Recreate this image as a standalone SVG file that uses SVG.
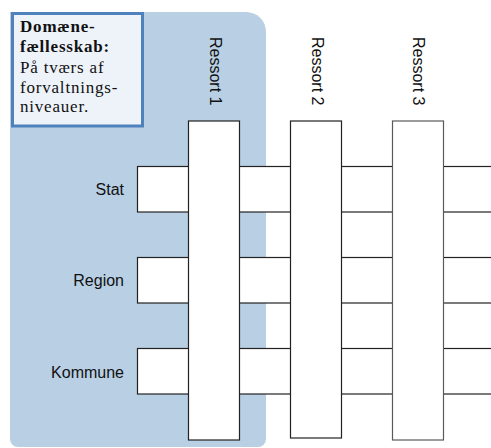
<svg xmlns="http://www.w3.org/2000/svg" width="491" height="448" viewBox="0 0 491 448">
<style>
.bar{fill:#fff;stroke:#222;stroke-width:1.2}
.lbl{font-family:"Liberation Sans",Arial,sans-serif;font-size:16px;fill:#111}
.note{font-family:"Liberation Serif","Times New Roman",serif;font-size:17px;letter-spacing:0.8px;fill:#111}
</style>
<g id="domain">
<path d="M10,12 H246 A20,20 0 0 1 266,32 V439 A8,8 0 0 1 258,447 H18 A8,8 0 0 1 10,439 Z" fill="#b8cfe4"/>
</g>
<g id="connectors">
<rect id="stat-bar" class="bar" x="137.5" y="166.5" width="360" height="45.5"/>
<rect id="region-bar" class="bar" x="137.5" y="257.5" width="360" height="45.5"/>
<rect id="kommune-bar" class="bar" x="137.5" y="348.5" width="360" height="45.5"/>
</g>
<g id="ressort1">
<rect class="bar" x="188.5" y="121" width="51" height="319"/>
<text class="lbl" transform="translate(210,37) rotate(90)">Ressort 1</text>
</g>
<g id="ressort2">
<rect class="bar" x="290.5" y="121" width="51" height="317"/>
<text class="lbl" transform="translate(312,37) rotate(90)">Ressort 2</text>
</g>
<g id="ressort3">
<rect class="bar" x="392.5" y="121" width="51" height="319" style="stroke:#5a5a5a"/>
<text class="lbl" transform="translate(413,37) rotate(90)">Ressort 3</text>
</g>
<g id="levels">
<text class="lbl" x="124" y="195" text-anchor="end">Stat</text>
<text class="lbl" x="124" y="286" text-anchor="end">Region</text>
<text class="lbl" x="124" y="378" text-anchor="end">Kommune</text>
</g>
<g id="note">
<rect x="12.5" y="13.5" width="130" height="112.5" fill="#eef3fa" stroke="#4f81bd" stroke-width="3"/>
<text class="note" x="20" y="32" font-weight="bold">Domæne-</text>
<text class="note" x="20" y="52" font-weight="bold">fællesskab:</text>
<text class="note" x="20" y="73">På tværs af</text>
<text class="note" x="20" y="93">forvaltnings-</text>
<text class="note" x="20" y="112">niveauer.</text>
</g>
</svg>
